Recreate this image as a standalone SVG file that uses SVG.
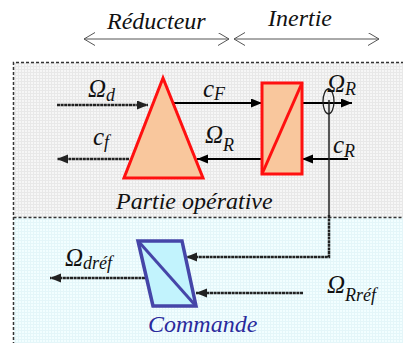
<svg xmlns="http://www.w3.org/2000/svg" width="403" height="343" viewBox="0 0 403 343">
<defs>
  <pattern id="gridG" width="3" height="3" patternUnits="userSpaceOnUse">
    <rect width="3" height="3" fill="#f6f6f6"/>
    <path d="M0,0.5H3M0.5,0V3" stroke="#e8e8e8" stroke-width="1"/>
  </pattern>
  <pattern id="gridC" width="3" height="3" patternUnits="userSpaceOnUse">
    <rect width="3" height="3" fill="#f2feff"/>
    <path d="M0,0.5H3M0.5,0V3" stroke="#e4f6f9" stroke-width="1"/>
  </pattern>
  <marker id="ah" markerWidth="12" markerHeight="10" refX="11" refY="4.5" orient="auto" markerUnits="userSpaceOnUse">
    <path d="M0,0 L11,4.5 L0,9 z" fill="#000"/>
  </marker>
  <marker id="ahd" markerWidth="12" markerHeight="10" refX="11" refY="4.5" orient="auto" markerUnits="userSpaceOnUse">
    <path d="M0,0 L11,4.5 L0,9 z" fill="#222"/>
  </marker>
  <marker id="chev" markerWidth="12" markerHeight="14" refX="11" refY="6.5" orient="auto-start-reverse" markerUnits="userSpaceOnUse">
    <path d="M0,0 L11,6.5 L0,13" fill="none" stroke="#555" stroke-width="1"/>
  </marker>
</defs>
<style>
  text { font-family: "Liberation Serif", "Times New Roman", serif; font-style: italic; fill: #111; }
  .big { font-size: 24px; }
  .sym { font-size: 25px; }
  .sub { font-size: 18px; }
  .cmd { fill: #2a2a9c; }
  .w { stroke: #000; stroke-width: 2; fill: none; marker-end: url(#ah); }
  .wd { stroke: #222; stroke-width: 2.5; fill: none; stroke-dasharray: 3 0.6; marker-end: url(#ahd); }
  .span { stroke: #555; stroke-width: 1; fill: none; marker-start: url(#chev); marker-end: url(#chev); }
  .blk { fill: #f9c79d; stroke: #ff1010; stroke-width: 3; stroke-linejoin: miter; }
  .ctl { fill: #c2f3fd; stroke: #4545a8; stroke-width: 3.5; stroke-linejoin: miter; }
  .frame { fill: none; stroke: #333; stroke-width: 1.5; stroke-dasharray: 3 2; }
</style>

<g id="background">
  <rect x="13.5" y="62.5" width="395" height="155" fill="url(#gridG)"/>
  <rect x="13.5" y="217.5" width="395" height="130" fill="url(#gridC)"/>
  <path class="frame" d="M13.5,345 V62.5 H405"/>
  <path class="frame" d="M13.5,217.5 H405"/>
</g>

<g id="spans">
  <path class="span" d="M84,39 H229"/>
  <path class="span" d="M234,39 H379"/>
  <text class="big" x="107" y="29">Réducteur</text>
  <text class="big" x="268" y="26">Inertie</text>
</g>

<g id="connectors">
  <path class="wd" d="M57,105 H148"/>
  <path class="w" d="M173,103 H262"/>
  <path class="w" d="M302,103 H352"/>
  <path class="w" d="M348,159 H302"/>
  <path class="w" d="M262,159 H197"/>
  <path class="wd" d="M129,159 H57"/>
  <path d="M329,100 V215" stroke="#222" stroke-width="1.5" fill="none"/>
  <path class="wd" d="M329,215 V257 H186"/>
  <path class="wd" d="M303,293 H196"/>
  <path class="wd" d="M145,278 H50"/>
  <ellipse cx="328.5" cy="101.5" rx="5.5" ry="12.5" fill="none" stroke="#222" stroke-width="1.3"/>
</g>

<g id="reducteur">
  <polygon class="blk" points="163,78 203,178 124,178"/>
</g>

<g id="inertie">
  <rect class="blk" x="262" y="83" width="40" height="91"/>
  <path d="M262,174 L302,83" stroke="#ff1010" stroke-width="3"/>
</g>

<g id="commande">
  <polygon class="ctl" points="138,241 182,241 196,306 153,306"/>
  <path d="M139,242 L195,305" stroke="#4545a8" stroke-width="3"/>
  <text class="big cmd" x="148" y="332">Commande</text>
</g>

<g id="labels">
  <text x="88" y="97"><tspan class="sym">Ω</tspan><tspan class="sub" dy="4">d</tspan></text>
  <text x="203" y="97"><tspan class="sym">c</tspan><tspan class="sub" dy="3">F</tspan></text>
  <text x="327" y="92"><tspan class="sym">Ω</tspan><tspan class="sub" dy="3">R</tspan></text>
  <text x="333" y="153"><tspan class="sym">c</tspan><tspan class="sub" dy="4">R</tspan></text>
  <text x="205" y="143"><tspan class="sym">Ω</tspan><tspan class="sub" dy="8">R</tspan></text>
  <text x="93" y="145"><tspan class="sym">c</tspan><tspan class="sub" dy="3">f</tspan></text>
  <text class="big" x="116" y="209">Partie opérative</text>
  <text x="65" y="266"><tspan class="sym">Ω</tspan><tspan class="sub" dy="3">dréf</tspan></text>
  <text x="327" y="293"><tspan class="sym">Ω</tspan><tspan class="sub" dy="8">Rréf</tspan></text>
</g>
</svg>
